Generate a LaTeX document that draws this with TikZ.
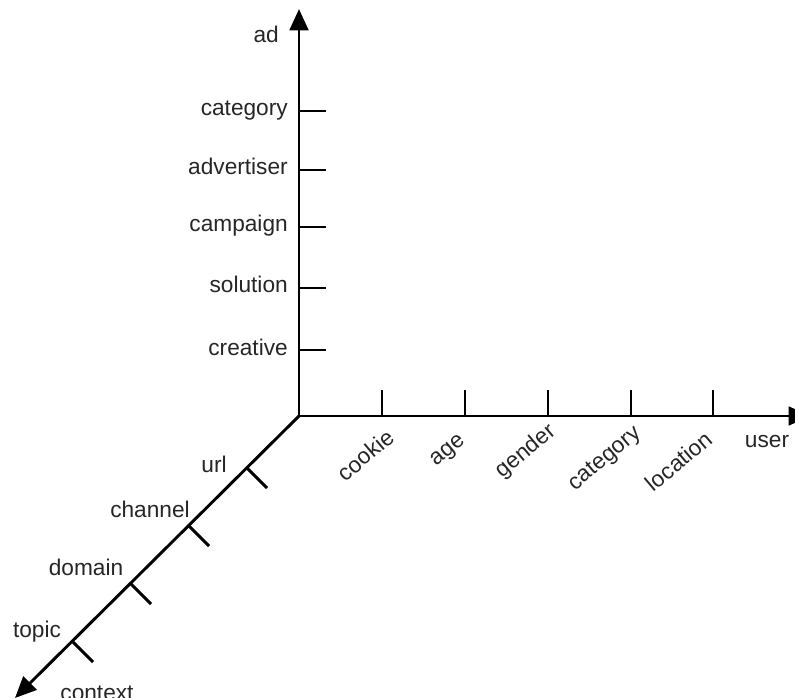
\documentclass[tikz,border=0pt]{standalone}
\usepackage{fontspec}
\setmainfont{Liberation Sans}
\usetikzlibrary{arrows.meta}
\begin{document}
\begin{tikzpicture}[x=0.75pt,y=-0.75pt,
  axis/.style={line width=2.2pt, -{Triangle[length=16pt,width=14pt]}},
  tickmark/.style={line width=2.2pt},
  lbl/.style={font=\fontsize{17pt}{20pt}\selectfont, text=black!85, inner sep=0pt},
  ]
\useasboundingbox (0,0) rectangle (795,698);

% origin and axis ends
\coordinate (O) at (299,416);
\coordinate (adend) at (299,9);
\coordinate (userend) at (810,416);
\coordinate (ctxend) at (15,698);

\draw[axis] (O) -- (adend);
\draw[axis] (O) -- (userend);
\draw[axis] (O) -- (ctxend);

% ad axis ticks and labels
\foreach \y/\t [count=\i] in {111/category,170/advertiser,227/campaign,288/solution,350/creative}{
  \coordinate (a\i) at (299,\y);
  \coordinate (a\i e) at (326,\y);
  \draw[tickmark] (a\i) -- (a\i e);
  \node[lbl, anchor=base east] (al\i) at (288,\y+5) {\t};
}
\node[lbl, anchor=base east] (adlbl) at (279,43) {ad};

% user axis ticks and labels
\foreach \x/\lx/\ly/\t [count=\i] in {382/396/440/cookie,465/466/442/age,548/557/433/gender,631/642/435/category,713/714/442/location}{
  \coordinate (u\i) at (\x,416);
  \coordinate (u\i e) at (\x,390);
  \draw[tickmark] (u\i) -- (u\i e);
  \node[lbl, rotate=40, anchor=base east] (ul\i) at (\lx,\ly) {\t};
}
\node[lbl, anchor=base] (userlbl) at (767,447) {user};

% context axis ticks and labels
\foreach \d/\lx/\ly/\t [count=\i] in {52/214/472/url,110/150/517/channel,168/86/575/domain,226/37/637/topic}{
  \coordinate (c\i) at (299-\d,416+\d);
  \coordinate (c\i e) at (319-\d,436+\d);
  \draw[tickmark] (c\i) -- (c\i e);
  \node[lbl, anchor=base] (cl\i) at (\lx,\ly) {\t};
}
\node[lbl, anchor=base] (ctxlbl) at (97,700) {context};
\end{tikzpicture}
\end{document}
